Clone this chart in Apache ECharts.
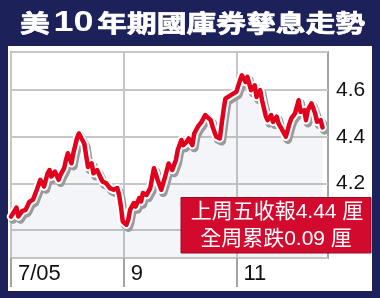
<!DOCTYPE html>
<html><head><meta charset="utf-8">
<script src="https://cdn.jsdelivr.net/npm/echarts@6/dist/echarts.min.js"></script>
<style>html,body{margin:0;padding:0;background:#1d2159}#c{width:380px;height:298px}</style>
</head><body><div id="c"></div>
<script>
const dates = ['2005-07-01','2005-07-04','2005-07-05','2005-07-07','2005-07-09','2005-07-11','2005-07-13','2005-07-15','2005-07-16','2005-07-17','2005-07-19','2005-07-21','2005-07-22','2005-07-23','2005-07-25','2005-07-27','2005-07-28','2005-07-30','2005-07-31',
'2005-08-01','2005-08-03','2005-08-04','2005-08-06','2005-08-07','2005-08-08','2005-08-09','2005-08-10','2005-08-11','2005-08-12','2005-08-13','2005-08-14','2005-08-15','2005-08-17','2005-08-19','2005-08-20','2005-08-22','2005-08-24','2005-08-26','2005-08-28','2005-08-29','2005-08-30','2005-08-31',
'2005-09-02','2005-09-03','2005-09-04','2005-09-06','2005-09-07','2005-09-09','2005-09-10','2005-09-11','2005-09-13','2005-09-15','2005-09-17','2005-09-18','2005-09-19','2005-09-21','2005-09-23','2005-09-25','2005-09-27','2005-09-29','2005-09-30',
'2005-10-02','2005-10-03','2005-10-05','2005-10-06','2005-10-08','2005-10-09','2005-10-11','2005-10-13','2005-10-15','2005-10-18','2005-10-19','2005-10-21','2005-10-23','2005-10-24','2005-10-25','2005-10-26','2005-10-27','2005-10-29','2005-10-30',
'2005-11-01','2005-11-03','2005-11-04','2005-11-06','2005-11-07','2005-11-09','2005-11-11','2005-11-12','2005-11-14','2005-11-15','2005-11-17','2005-11-18','2005-11-20','2005-11-21','2005-11-23','2005-11-24','2005-11-26','2005-11-28','2005-11-30',
'2005-12-01','2005-12-03','2005-12-05','2005-12-06','2005-12-08','2005-12-09','2005-12-10','2005-12-12','2005-12-14','2005-12-15','2005-12-17','2005-12-18'];
const yields = [4.057,4.095,4.057,4.08,4.086,4.12,4.13,4.17,4.165,4.215,4.186,4.243,4.257,4.229,4.25,4.215,4.236,4.265,4.30,
4.329,4.286,4.329,4.393,4.414,4.40,4.385,4.37,4.32,4.27,4.265,4.286,4.243,4.257,4.222,4.207,4.20,4.179,4.172,4.179,4.15,4.10,4.036,
4.022,4.043,4.086,4.115,4.10,4.136,4.122,4.158,4.15,4.179,4.265,4.257,4.215,4.172,4.225,4.285,4.257,4.30,4.343,
4.386,4.364,4.379,4.393,4.364,4.414,4.443,4.464,4.493,4.471,4.443,4.40,4.393,4.457,4.514,4.564,4.571,4.579,4.586,
4.593,4.643,4.664,4.635,4.657,4.60,4.621,4.571,4.60,4.557,4.49,4.471,4.493,4.464,4.486,4.457,4.429,4.40,4.457,
4.479,4.50,4.557,4.507,4.514,4.471,4.514,4.543,4.50,4.464,4.471,4.44];
const xTickDays = [0, 61.5, 123];
const xTickLabels = ['7/05', '9', '11'];
const yMin = 3.879, yMax = 4.764;
const titleMain = '美', titleNum = '10', titleRest = '年期國庫券孳息走勢';
const noteLines = ['上周五收報4.44 厘', '全周累跌0.09 厘'];

const start = Date.UTC(2005, 6, 1);
const pts = dates.map((d, i) => {
  const p = d.split('-').map(Number);
  return [(Date.UTC(p[0], p[1] - 1, p[2]) - start) / 864e5, yields[i]];
});

const chart = echarts.init(document.getElementById('c'), null, {renderer: 'canvas'});
const latin = '"Liberation Sans", "Noto Sans CJK TC", sans-serif';
chart.setOption({
  backgroundColor: '#1d2159',
  animation: false,
  grid: {left: 11, right: 52, top: 52, bottom: 40, show: true, borderColor: '#a3a3a3', borderWidth: 2, backgroundColor: 'transparent'},
  xAxis: {
    type: 'value', min: 0, max: 173, interval: 61.5,
    axisLine: {show: false},
    axisTick: {show: true, customValues: xTickDays, length: 29, lineStyle: {color: '#a3a3a3', width: 2}},
    axisLabel: {customValues: xTickDays, align: 'left', padding: [0, 0, 0, 7], margin: 5, fontSize: 22, color: '#111', fontFamily: latin,
      formatter: v => { const i = xTickDays.findIndex(t => Math.abs(t - v) < 1e-6); return i >= 0 ? xTickLabels[i] : ''; }},
    splitLine: {show: true, lineStyle: {color: '#c6c6c6', width: 2}}
  },
  yAxis: {
    type: 'value', position: 'right', min: yMin, max: yMax, splitNumber: 5,
    axisLine: {show: false}, axisTick: {show: false},
    axisLabel: {margin: 8, fontSize: 21, color: '#111', fontFamily: latin, showMinLabel: false, showMaxLabel: false,
      formatter: v => Math.abs(v * 5 - Math.round(v * 5)) < 1e-6 ? v.toFixed(1) : ''},
    splitLine: {show: true, lineStyle: {color: '#c6c6c6', width: 2}}
  },
  graphic: [
    {type: 'rect', z: -10, shape: {x: 8, y: 46, width: 364, height: 245}, style: {fill: '#ffffff'}},
    {type: 'text', z: 100, x: 20, y: 23, scaleX: 1.24,
      style: {text: '{a|' + titleMain + '}{d|' + titleNum + '}{a|' + titleRest + '}', verticalAlign: 'middle', align: 'left',
        rich: {a: {fontSize: 24, fontWeight: 'bold', fill: '#fff', stroke: '#fff', lineWidth: 0.7, fontFamily: '"Noto Sans CJK TC", sans-serif'},
               d: {fontSize: 29, fontWeight: 'bold', fill: '#fff', fontFamily: latin, padding: [0, 3, 0, 3]}}}},
    {type: 'rect', z: 100, shape: {x: 181, y: 197.5, width: 190, height: 55.5}, style: {fill: '#d20a2e', stroke: '#9e0a22', lineWidth: 1}},
    {type: 'text', z: 101, x: 277, y: 212, style: {text: noteLines[0], fill: '#fff', fontSize: 21, fontFamily: latin, align: 'center', verticalAlign: 'middle'}},
    {type: 'text', z: 101, x: 276, y: 239, style: {text: noteLines[1], fill: '#fff', fontSize: 21, fontFamily: latin, align: 'center', verticalAlign: 'middle'}}
  ],
  series: [
    {type: 'line', data: pts, showSymbol: false, z: 2,
      lineStyle: {color: '#ffffff', width: 8.5, join: 'round', cap: 'round', shadowColor: '#9a9a9a', shadowBlur: 0, shadowOffsetX: 2, shadowOffsetY: 3},
      areaStyle: {color: 'rgba(100,120,150,0.1)', origin: 'start'}},
    {type: 'line', data: pts, showSymbol: false, z: 3,
      lineStyle: {color: '#e2001d', width: 4.5, join: 'round', cap: 'round'}}
  ]
});
</script></body></html>
